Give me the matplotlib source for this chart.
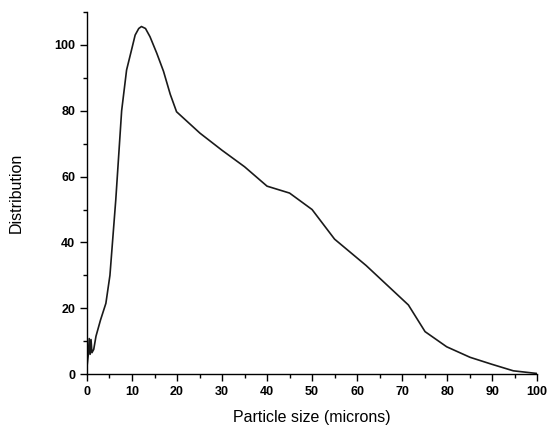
import matplotlib
matplotlib.use("Agg")
import matplotlib.pyplot as plt
from matplotlib.ticker import MultipleLocator

# particle size (microns) and distribution values
tamanho = [0.0, 0.3, 0.5, 0.7, 0.9, 1.1, 1.5, 2.0, 3.0, 4.2, 5.1, 6.4, 7.7,
           8.8, 9.9, 10.7, 11.5, 12.1, 13.0, 14.0, 15.5, 17.0, 18.5, 19.9,
           25.1, 30.0, 35.0, 40.0, 45.0, 50.0, 55.0, 62.0, 71.4, 75.1, 79.9,
           85.1, 89.9, 94.7, 99.9]
distribuicao = [2.2, 6.0, 10.8, 6.0, 10.5, 6.5, 7.5, 11.5, 16.4, 21.5, 30.0,
                53.0, 80.0, 92.4, 98.5, 103.0, 105.0, 105.6, 105.0, 102.5,
                97.5, 92.0, 85.0, 79.7, 73.2, 68.0, 63.0, 57.1, 55.0, 50.0,
                41.0, 33.0, 21.0, 12.9, 8.3, 5.1, 3.0, 1.0, 0.2]

plt.rcParams['font.family'] = ['Liberation Sans', 'DejaVu Sans']

fig = plt.figure(figsize=(5.47, 4.30), dpi=100)
ax = fig.add_axes([0.159, 0.130, 0.823, 0.842])

ax.plot(tamanho, distribuicao, color='#1a1a1a', linewidth=1.2)

ax.set_xlim(0, 100)
ax.set_ylim(0, 110)
ax.xaxis.set_major_locator(MultipleLocator(10))
ax.xaxis.set_minor_locator(MultipleLocator(5))
ax.yaxis.set_minor_locator(MultipleLocator(10))
ax.set_yticks([0, 20, 40, 60, 80, 100])

for lado in ['top', 'right']:
    ax.spines[lado].set_visible(False)
for lado in ['left', 'bottom']:
    ax.spines[lado].set_linewidth(1.0)

ax.tick_params(which='major', direction='out', length=5, width=1.0,
               labelsize=9)
ax.tick_params(which='minor', direction='out', length=3, width=1.0)
for rotulo in ax.get_xticklabels() + ax.get_yticklabels():
    rotulo.set_fontweight('bold')

ax.set_xlabel('Particle size (microns)', fontsize=11.5, labelpad=9)
ax.set_ylabel('Distribution', fontsize=11.5, labelpad=22)

fig.savefig('out.png', dpi=100)
